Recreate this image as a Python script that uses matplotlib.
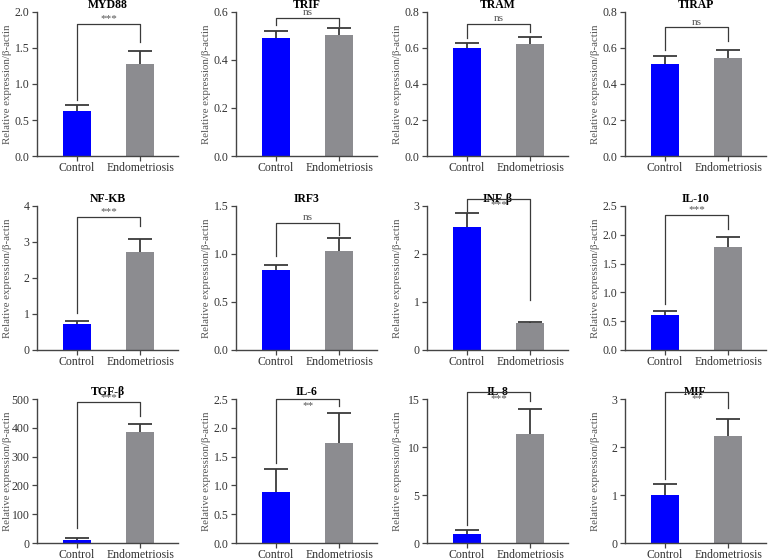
import numpy as np
import matplotlib
matplotlib.use('Agg')
import matplotlib.pyplot as plt
from matplotlib.ticker import MultipleLocator, FormatStrFormatter

plt.rcParams['font.family'] = ['Liberation Serif', 'DejaVu Serif']

genes = ['MYD88', 'TRIF', 'TRAM', 'TIRAP', 'NF-KB', 'IRF3', 'INF-β', 'IL-10',
         'TGF-β', 'IL-6', 'IL-8', 'MIF']
groups = ['Control', 'Endometriosis']
control_mean = [0.62, 0.49, 0.60, 0.51, 0.73, 0.83, 2.56, 0.60, 12, 0.89, 0.94, 0.99]
control_err = [0.09, 0.03, 0.03, 0.045, 0.08, 0.06, 0.29, 0.07, 7, 0.40, 0.46, 0.24]
endo_mean = [1.28, 0.505, 0.624, 0.546, 2.71, 1.036, 0.56, 1.79, 386, 1.74, 11.34, 2.23]
endo_err = [0.18, 0.03, 0.037, 0.045, 0.37, 0.13, 0.02, 0.18, 26, 0.51, 2.6, 0.35]
signif = ['***', 'ns', 'ns', 'ns', '***', 'ns', '***', '***', '***', '**', '***', '**']
y_max = [2.0, 0.6, 0.8, 0.8, 4, 1.5, 3, 2.5, 500, 2.5, 15, 3]
y_step = [0.5, 0.2, 0.2, 0.2, 1, 0.5, 1, 0.5, 100, 0.5, 5, 1]
bracket_top = [1.84, 0.576, 0.735, 0.717, 3.70, 1.325, 3.15, 2.35, 488, 2.5, 15.7, 3.14]
leg_left = [0.78, 0.545, 0.654, 0.591, 1.04, 0.984, 2.90, 0.80, 51, 1.384, 1.88, 1.34]
leg_right = [1.58, 0.54, 0.69, 0.639, 3.45, 1.203, 1.05, 2.10, 442, 2.37, 14.79, 2.805]

W, H = 768, 559
col_left = [37, 236, 427, 625]
row_top = [12, 206, 399]
ax_w, ax_h = 141, 144

bar_colors = ['#0000ff', '#8c8c90']
dark = '#3a3a3a'

fig = plt.figure(figsize=(W / 100, H / 100), dpi=100)

for i, gene in enumerate(genes):
    r, c = divmod(i, 4)
    ax = fig.add_axes([col_left[c] / W, 1 - (row_top[r] + ax_h) / H, ax_w / W, ax_h / H])
    x = np.arange(2)
    means = [control_mean[i], endo_mean[i]]
    errs = [control_err[i], endo_err[i]]
    ax.bar(x, means, width=0.45, color=bar_colors, zorder=2)
    ax.errorbar(x, means, yerr=[[0, 0], errs], fmt='none', ecolor=dark,
                elinewidth=1.3, capsize=0, zorder=3)
    ax.plot(x, np.array(means) + np.array(errs), ls='none', marker='_',
            markersize=17, markeredgewidth=1.3, color=dark, zorder=3)

    # significance bracket
    top = bracket_top[i]
    ax.plot([0, 0, 1, 1], [leg_left[i], top, top, leg_right[i]], color=dark,
            lw=0.9, clip_on=False, zorder=4)
    if top >= y_max[i] * 0.99:
        ax.text(0.5, top - y_max[i] * 0.012, signif[i], ha='center', va='top',
                fontsize=8, color='#555555')
    else:
        ax.text(0.5, top + y_max[i] * 0.003, signif[i], ha='center', va='bottom',
                fontsize=8, color='#555555')

    ax.set_xlim(-0.635, 1.6)
    ax.set_ylim(0, y_max[i])
    ax.yaxis.set_major_locator(MultipleLocator(y_step[i]))
    if y_step[i] < 1:
        ax.yaxis.set_major_formatter(FormatStrFormatter('%.1f'))
    else:
        ax.yaxis.set_major_formatter(FormatStrFormatter('%d'))
    ax.set_xticks(x)
    ax.set_xticklabels(groups)
    for s in ['top', 'right']:
        ax.spines[s].set_visible(False)
    for s in ['left', 'bottom']:
        ax.spines[s].set_color('#444444')
        ax.spines[s].set_linewidth(1.0)
    ax.tick_params(axis='both', direction='out', length=3.5, width=0.9,
                   color='#444444', labelsize=8.5, labelcolor='#333333', pad=2)
    ax.tick_params(axis='x', pad=1)
    ax.set_ylabel('Relative expression/β-actin', fontsize=7.8, color='#555555')
    ax.yaxis.set_label_coords(-25 / ax_w, 0.5)
    ax.set_title(gene, fontsize=8.5, fontweight='bold', pad=3)

fig.savefig('out.png', dpi=100)
